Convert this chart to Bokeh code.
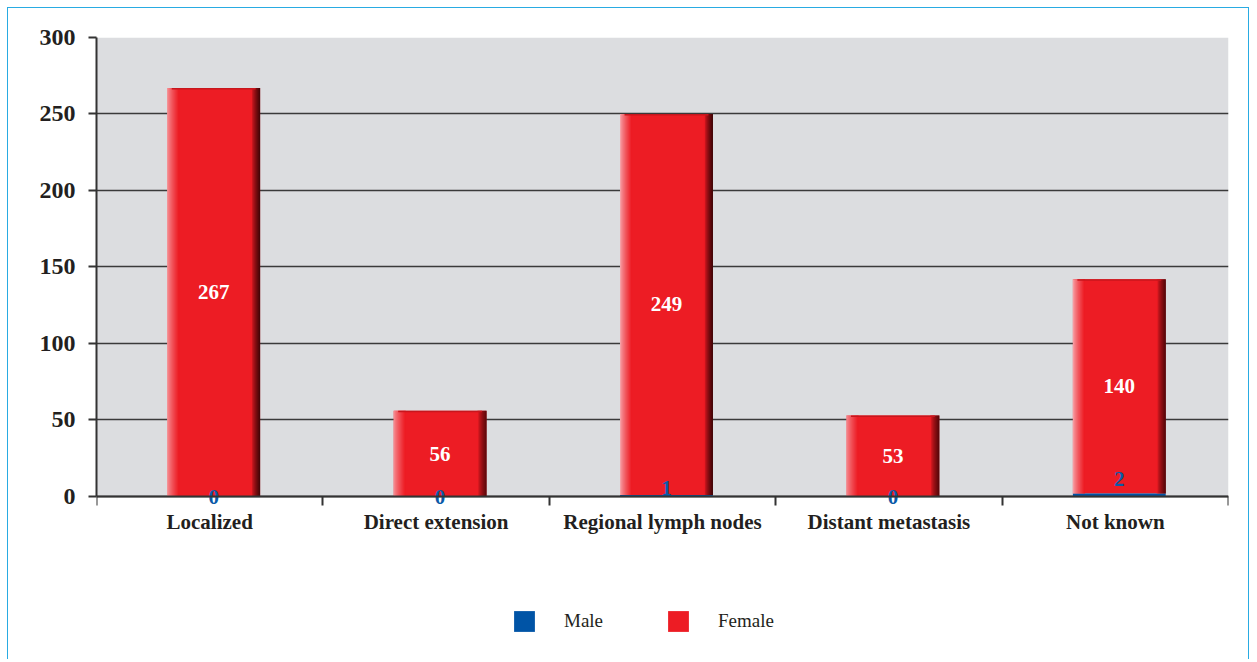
from bokeh.plotting import figure
from bokeh.models import Range1d, FixedTicker, Legend, LegendItem, ColumnDataSource, BoxAnnotation
from bokeh.embed import file_html
from bokeh.resources import INLINE
from bokeh.core.properties import value

categories = ["Localized", "Direct extension", "Regional lymph nodes", "Distant metastasis", "Not known"]
male = [0, 0, 1, 0, 2]
female = [267, 56, 249, 53, 140]
y_ticks = [0, 50, 100, 150, 200, 250, 300]

RED = "#ed1c24"
BLUE_BAR = "#0054a6"
BLUE = "#0a5aa8"
FONT = "Liberation Serif"
BAR_W = 0.41
PX = 1 / 226.4   # one screen pixel in x data units
SHIFT = 4 * PX   # bars sit slightly right of the category centre
Y_MIN = -107.2   # extra room below the axis for category labels and legend


def mix(c1, c2, t):
    a = [int(c1[i:i + 2], 16) for i in (1, 3, 5)]
    b = [int(c2[i:i + 2], 16) for i in (1, 3, 5)]
    return "#" + "".join("%02x" % round(a[k] + (b[k] - a[k]) * t) for k in range(3))


xs = list(range(1, len(categories) + 1))
bx = [x + SHIFT for x in xs]
tops = [m + f for m, f in zip(male, female)]
mid = [m + f / 2 for m, f in zip(male, female)]
male_lbl_y = [m * 6 for m in male]

p = figure(width=1242, height=652, output_backend="svg", toolbar_location=None,
           x_range=Range1d(0.5, len(categories) + 0.5), y_range=Range1d(Y_MIN, y_ticks[-1]),
           min_border_left=88, min_border_right=22, min_border_top=29, min_border_bottom=0)
p.styles = {"margin": "7px 0 0 7px", "border": "1px solid #29abe2", "border-bottom": "none"}
p.background_fill_color = "white"
p.border_fill_color = "white"
p.outline_line_color = None

# grey plotting area from 0 to 300
p.add_layout(BoxAnnotation(bottom=0, top=y_ticks[-1], fill_color="#dcdde0", fill_alpha=1,
                           line_color=None, level="image"))

src = ColumnDataSource(dict(x=bx, male=male, female=female, top=tops, mid=mid,
                            mlab=[str(v) for v in male], flab=[str(v) for v in female],
                            mly=male_lbl_y))

r_f = p.vbar(x="x", bottom="male", top="top", width=BAR_W, fill_color=RED, line_color=None, source=src)
r_m = p.vbar(x="x", bottom=0, top="male", width=BAR_W, fill_color=BLUE_BAR, line_color=None, source=src)

# shading strips: left highlight gradient, right shadow gradient
n_left = 12
for i in range(n_left):
    c = mix("#f8a8ad", RED, (i / (n_left - 1)) ** 0.8)
    xo = [x - BAR_W / 2 + (i + 0.5) * PX for x in bx]
    p.vbar(x=xo, bottom=male, top=tops, width=PX * 1.05, fill_color=c, line_color=None)
n_right = 9
for i in range(n_right):
    c = mix(RED, "#3a0406", (i / (n_right - 1)) ** 0.7)
    xo = [x + BAR_W / 2 - (n_right - i - 0.5) * PX for x in bx]
    p.vbar(x=xo, bottom=male, top=tops, width=PX * 1.05, fill_color=c, line_color=None)
# top edge darker
p.vbar(x=bx, bottom=[t - 1.0 for t in tops], top=tops, width=BAR_W - 9 * PX, fill_color="#c8161d",
       line_color=None)

p.text(x="x", y="mid", text="flab", source=src, text_color="white", text_font=value(FONT),
       text_font_style="bold", text_font_size="21px", text_align="center", text_baseline="middle")
p.text(x="x", y="mly", text="mlab", source=src, text_color=BLUE, text_font=value(FONT),
       text_font_style="bold", text_font_size="21px", text_align="center", text_baseline="middle",
       y_offset=1)

# y axis
p.yaxis.ticker = FixedTicker(ticks=y_ticks)
p.yaxis.bounds = (y_ticks[0], y_ticks[-1])
p.yaxis.major_label_text_font = FONT
p.yaxis.major_label_text_font_style = "bold"
p.yaxis.major_label_text_font_size = "24px"
p.yaxis.major_label_text_color = "#231f20"
p.yaxis.major_tick_out = 8
p.yaxis.major_tick_in = 0
p.yaxis.minor_tick_line_color = None
p.yaxis.major_label_standoff = 13
p.yaxis.axis_line_width = 2
p.yaxis.axis_line_color = "#333333"
p.yaxis.major_tick_line_width = 2
p.yaxis.major_tick_line_color = "#333333"

# x axis at y = 0
p.xaxis.fixed_location = 0
p.xaxis.ticker = FixedTicker(ticks=xs, minor_ticks=[x - 0.5 for x in xs] + [xs[-1] + 0.5])
p.xaxis.major_label_overrides = {x: c for x, c in zip(xs, categories)}
p.xaxis.major_label_text_font = FONT
p.xaxis.major_label_text_font_style = "bold"
p.xaxis.major_label_text_font_size = "21px"
p.xaxis.major_label_text_color = "#231f20"
p.xaxis.major_tick_out = 0
p.xaxis.major_tick_in = 0
p.xaxis.minor_tick_out = 9
p.xaxis.minor_tick_in = 0
p.xaxis.minor_tick_line_width = 2
p.xaxis.minor_tick_line_color = "#333333"
p.xaxis.major_label_standoff = 5
p.xaxis.axis_line_width = 2
p.xaxis.axis_line_color = "#333333"

p.xgrid.grid_line_color = None
p.ygrid.ticker = FixedTicker(ticks=y_ticks)
p.ygrid.grid_line_color = "#3a3a3a"
p.ygrid.grid_line_width = 1.5

legend = Legend(items=[LegendItem(label="Male", renderers=[r_m]),
                       LegendItem(label="Female", renderers=[r_f])],
                location=(415, 26), orientation="horizontal")
legend.glyph_width = 26
legend.glyph_height = 26
legend.label_standoff = 27
legend.spacing = 62
legend.padding = 2
legend.margin = 0
legend.border_line_color = None
legend.background_fill_alpha = 0
legend.label_text_font = FONT
legend.label_text_font_size = "19px"
legend.label_text_color = "#231f20"
p.add_layout(legend, "center")

open("out.html", "w").write(file_html(p, INLINE))
